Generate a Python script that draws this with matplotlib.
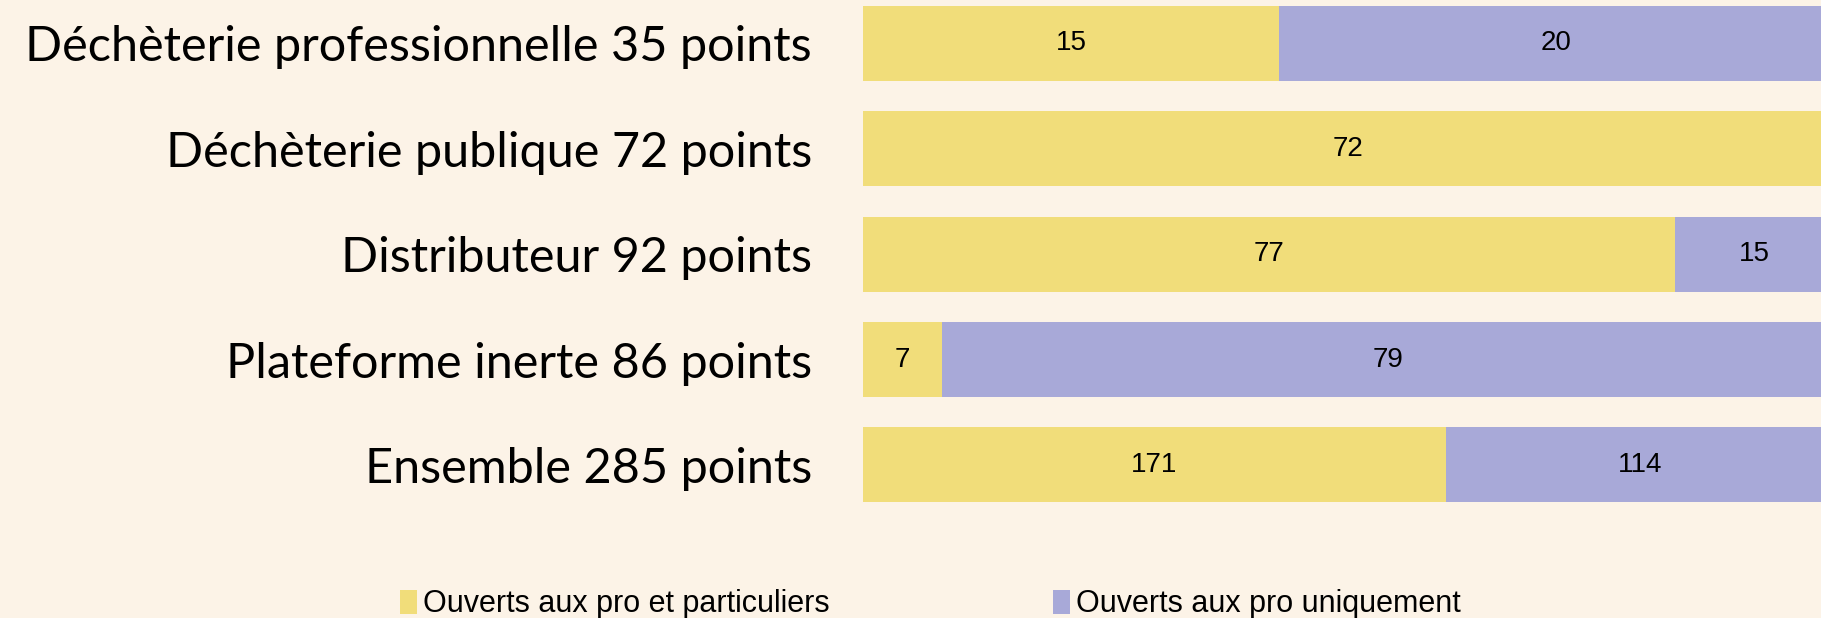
import matplotlib.pyplot as plt
import numpy as np

CATEGORIES = [
    "Ensemble 285 points",
    "Plateforme inerte 86 points",
    "Distributeur 92 points",
    "Déchèterie publique 72 points",
    "Déchèterie professionnelle 35 points",
]
PRO_ET_PART = [171, 7, 77, 72, 15]
PRO_SEULEMENT = [114, 79, 15, 0, 20]
SERIES_NAMES = ["Ouverts aux pro et particuliers", "Ouverts aux pro uniquement"]

BG = "#FCF3E7"
YELLOW = "#F1DD7A"
PURPLE = "#A8A9D8"

both = np.array(PRO_ET_PART, dtype=float)
pro = np.array(PRO_SEULEMENT, dtype=float)
total = both + pro

fig = plt.figure(figsize=(18.21, 6.18), dpi=100, facecolor=BG)
# les barres debordent un peu a droite de l'image, comme dans l'original
ax = fig.add_axes([0.474, 0.0, 0.533, 1.0])
ax.set_facecolor(BG)

y = np.arange(len(CATEGORIES))
h = 0.712
b1 = ax.barh(y, both / total, h, color=YELLOW, label=SERIES_NAMES[0])
b2 = ax.barh(y, pro / total, h, left=both / total, color=PURPLE, label=SERIES_NAMES[1])

for bars, vals in ((b1, PRO_ET_PART), (b2, PRO_SEULEMENT)):
    ax.bar_label(bars, labels=[str(v) if v else "" for v in vals], label_type="center",
                 fontsize=20, family=["Liberation Sans", "DejaVu Sans"], color="black")

ax.set_xlim(0, 1)
ax.set_ylim(-1.452, 4.412)
ax.set_yticks(y)
ax.set_yticklabels(CATEGORIES, fontsize=35, family=["Lato", "DejaVu Sans"])
ax.tick_params(axis="y", length=0, pad=37)
ax.set_xticks([])
for s in ax.spines.values():
    s.set_visible(False)

fig.legend(handles=[b1, b2], loc="center", bbox_to_anchor=(0.511, 0.022), ncol=2,
           frameon=False, handlelength=0.55, handleheight=0.85, handletextpad=0.2,
           columnspacing=7.3, prop={"family": ["Liberation Sans", "DejaVu Sans"], "size": 22})

fig.savefig("out.png", dpi=100, facecolor=BG)
